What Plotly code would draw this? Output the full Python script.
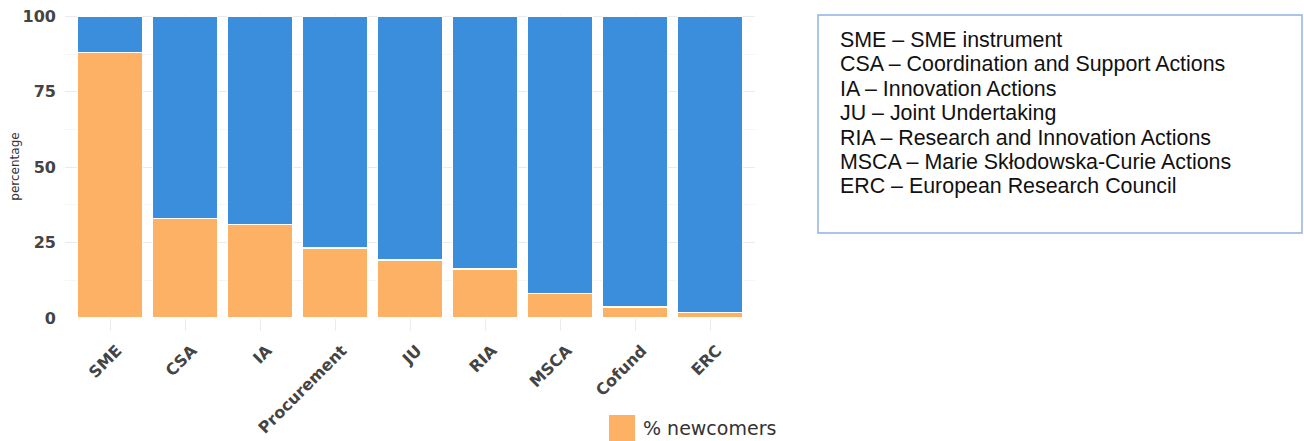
import plotly.graph_objects as go

categories = ["SME", "CSA", "IA", "Procurement", "JU", "RIA", "MSCA", "Cofund", "ERC"]
newcomers = [88, 33, 31, 23.3, 19.2, 16.2, 8.2, 3.6, 1.8]
others = [round(100 - v, 1) for v in newcomers]
y_ticks = [0, 25, 50, 75, 100]
glossary = [
    "SME – SME instrument",
    "CSA – Coordination and Support Actions",
    "IA – Innovation Actions",
    "JU – Joint Undertaking",
    "RIA – Research and Innovation Actions",
    "MSCA – Marie Skłodowska-Curie Actions",
    "ERC – European Research Council",
]

ORANGE = "#FDB164"
BLUE = "#3A8EDB"

fig = go.Figure()
fig.add_trace(go.Bar(x=categories, y=newcomers, name="% newcomers", showlegend=False,
                     legendgroup="new",
                     marker=dict(color=ORANGE, line=dict(color="white", width=1.5))))
fig.add_trace(go.Bar(x=categories, y=others, name="% others", showlegend=False,
                     marker=dict(color=BLUE, line=dict(color="white", width=1.5))))
# legend entry (no white outline on the swatch)
fig.add_trace(go.Bar(x=[None], y=[None], name="% newcomers", legendgroup="new",
                     showlegend=True, marker=dict(color=ORANGE, line=dict(width=0))))

W, H = 1304, 441
L, R, T, B = 65, 549, 15, 123
ph = H - T - B
pw = W - L - R

fig.update_layout(
    width=W, height=H, barmode="stack", bargap=0.13,
    margin=dict(l=L, r=R, t=T, b=B, pad=0, autoexpand=False),
    paper_bgcolor="white", plot_bgcolor="white",
    font=dict(family="DejaVu Sans", color="#444"),
    showlegend=True,
    legend=dict(x=(603 - L) / pw, xanchor="left", y=-(B + 6) / ph, yanchor="bottom",
                font=dict(size=19, family="DejaVu Sans", color="#333"),
                itemwidth=30,
                bgcolor="rgba(0,0,0,0)"),
    xaxis=dict(tickangle=-45, automargin=False, range=[-0.6, 8.6],
               tickfont=dict(size=16, family="DejaVu Sans", weight="bold", color="#444"),
               showgrid=True, gridcolor="#f2f2f2", ticks="outside", ticklen=12,
               tickcolor="#ececec", showline=False,
               ticklabelstandoff=4, ticklabelshift=7),
    yaxis=dict(range=[0, 100.5], tickvals=y_ticks, automargin=False,
               tickfont=dict(size=16, family="DejaVu Sans", weight="bold", color="#444"),
               ticklabelstandoff=8, ticks="",
               title=dict(text="percentage", font=dict(size=12, family="DejaVu Sans", color="#333"),
                          standoff=0),
               showgrid=True, gridcolor="#ebebeb", zeroline=False,
               minor=dict(dtick=12.5, showgrid=True, gridcolor="#f5f5f5")),
)

# enlarged legend swatch behind the legend symbol
fig.add_shape(type="rect", xref="paper", yref="paper",
              x0=(609 - L) / pw, x1=(635 - L) / pw,
              y0=(H - B - 441) / ph, y1=(H - B - 415) / ph,
              line=dict(width=0), fillcolor=ORANGE, layer="above")

# glossary box
x0 = (818 - L) / pw
x1 = (1302 - L) / pw
y1 = (H - B - 15) / ph
y0 = (H - B - 233) / ph
fig.add_shape(type="rect", xref="paper", yref="paper", x0=x0, x1=x1, y0=y0, y1=y1,
              line=dict(color="#8DB3E2", width=1.5), fillcolor="white")
for i, line in enumerate(glossary):
    ypx = 40 + i * 24.4
    fig.add_annotation(text=line, xref="paper", yref="paper",
                       x=(838 - L) / pw, xanchor="left",
                       y=(H - B - ypx) / ph, yanchor="middle",
                       showarrow=False,
                       font=dict(size=21.4, family="Liberation Sans", color="#111"))

fig.write_html("out.html")
